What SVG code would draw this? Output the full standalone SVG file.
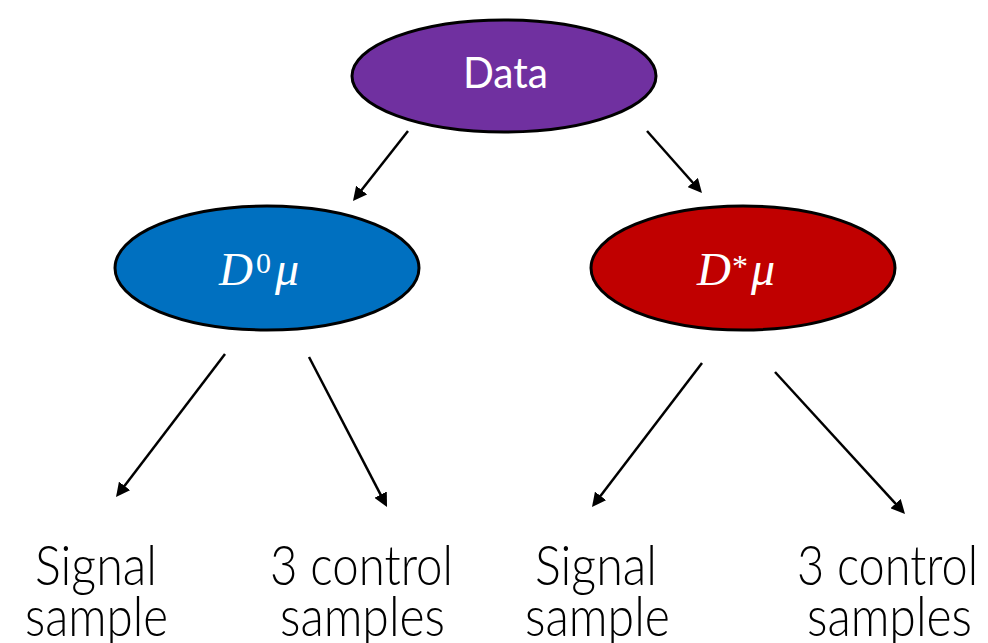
<svg xmlns="http://www.w3.org/2000/svg" width="988" height="643" viewBox="0 0 988 643">
  <style>
    .node { stroke: #000; stroke-width: 3; }
    .label { font-family: Lato, "Open Sans", sans-serif; fill: #fff; }
    .math { font-family: "Liberation Serif", "DejaVu Serif", serif; fill: #fff; }
    .it { font-style: italic; }
    .leaf { font-family: Lato, "Open Sans", sans-serif; font-weight: 300; font-size: 55px; fill: #000; }
    .edge { stroke: #000; stroke-width: 2.5; fill: none; marker-end: url(#head); }
  </style>
  <defs>
    <marker id="head" viewBox="0 0 14 14" refX="2" refY="7" markerWidth="14" markerHeight="14" markerUnits="userSpaceOnUse" orient="auto">
      <path d="M0,0 L14,7 L0,14 z" fill="#000"/>
    </marker>
  </defs>

  <rect width="988" height="643" fill="#fff"/>

  <!-- root node -->
  <g id="data">
    <ellipse class="node" cx="504" cy="76" rx="152" ry="56" fill="#7030A0"/>
    <text class="label" x="463" y="88" font-size="43" textLength="85" lengthAdjust="spacingAndGlyphs">Data</text>
  </g>

  <!-- D0 mu node -->
  <g id="d0mu">
    <ellipse class="node" cx="267" cy="268" rx="152" ry="62" fill="#0070C0"/>
    <text class="math it" x="219" y="285" font-size="47">D</text>
    <text class="math" x="256" y="273" font-size="30">0</text>
    <text class="math it" x="275" y="285" font-size="48">μ</text>
  </g>

  <!-- D* mu node -->
  <g id="dstarmu">
    <ellipse class="node" cx="743" cy="268" rx="152" ry="62" fill="#C00000"/>
    <text class="math it" x="697" y="285" font-size="47">D</text>
    <text class="math" x="732" y="277" font-size="32">*</text>
    <text class="math it" x="751" y="285" font-size="48">μ</text>
  </g>

  <!-- leaf labels -->
  <g id="d0-signal">
    <text class="leaf" x="35" y="585" textLength="122" lengthAdjust="spacingAndGlyphs">Signal</text>
    <text class="leaf" x="25" y="636" textLength="143" lengthAdjust="spacingAndGlyphs">sample</text>
  </g>
  <g id="d0-control">
    <text class="leaf" x="270" y="585" textLength="183" lengthAdjust="spacingAndGlyphs">3 control</text>
    <text class="leaf" x="280" y="636" textLength="165" lengthAdjust="spacingAndGlyphs">samples</text>
  </g>
  <g id="dstar-signal">
    <text class="leaf" x="535" y="585" textLength="122" lengthAdjust="spacingAndGlyphs">Signal</text>
    <text class="leaf" x="525" y="636" textLength="145" lengthAdjust="spacingAndGlyphs">sample</text>
  </g>
  <g id="dstar-control">
    <text class="leaf" x="797" y="585" textLength="181" lengthAdjust="spacingAndGlyphs">3 control</text>
    <text class="leaf" x="807" y="636" textLength="165" lengthAdjust="spacingAndGlyphs">samples</text>
  </g>

  <!-- connectors -->
  <g id="edges">
    <path class="edge" d="M408,131 L360.4,191.6"/>
    <path class="edge" d="M647,131 L694,184"/>
    <path class="edge" d="M225,354 L123.3,487.5"/>
    <path class="edge" d="M309,357 L381.5,496.4"/>
    <path class="edge" d="M702,363 L599.3,497.5"/>
    <path class="edge" d="M775,372 L896.9,505.1"/>
  </g>
</svg>
